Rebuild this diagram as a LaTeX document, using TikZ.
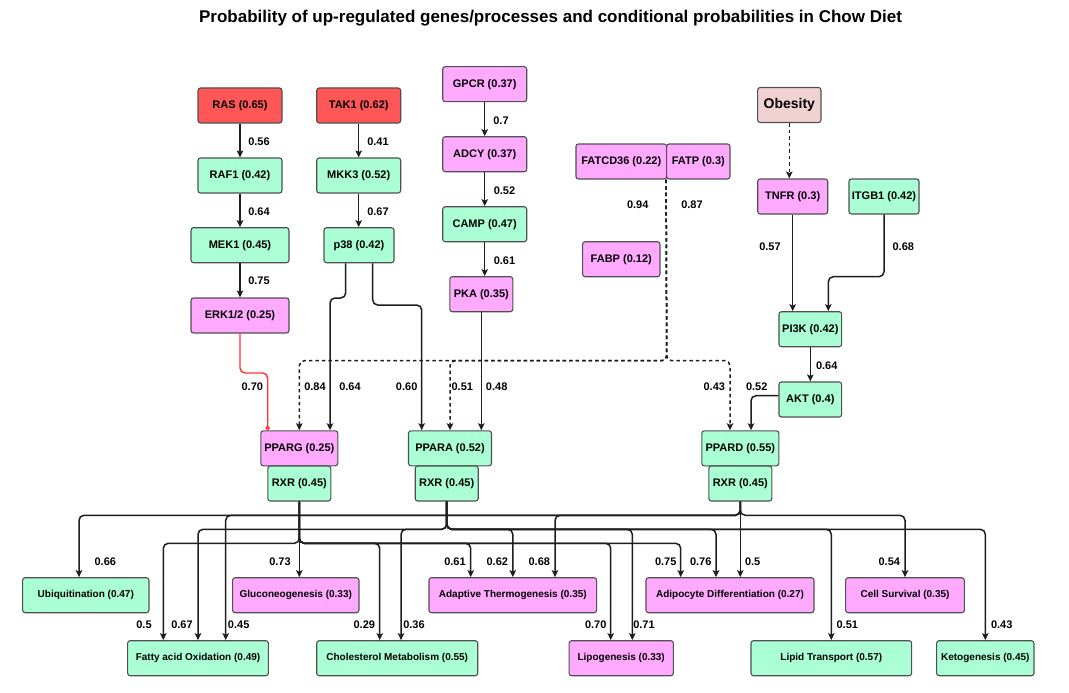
\documentclass[tikz,border=0pt]{standalone}
\usepackage{fontspec}
\setmainfont{Liberation Sans}
\usetikzlibrary{arrows.meta}
\definecolor{cred}{RGB}{255,87,87}
\definecolor{cgreen}{RGB}{170,255,213}
\definecolor{cpink}{RGB}{255,170,255}
\definecolor{cobes}{RGB}{240,210,210}
\definecolor{cborder}{RGB}{80,80,80}
\definecolor{cline}{RGB}{30,30,30}
\definecolor{credline}{RGB}{255,51,51}
\begin{document}
\begin{tikzpicture}[x=1pt,y=-1pt,
  box/.style={draw=cborder, line width=1.1pt, rounded corners=2.5pt, inner sep=0pt, minimum height=35pt, font=\bfseries\fontsize{11}{13}\selectfont, text=black},
  gbox/.style={box, fill=cgreen},
  pbox/.style={box, fill=cpink},
  rbox/.style={box, fill=cred},
  smalltxt/.style={font=\bfseries\fontsize{10}{12}\selectfont},
  elabel/.style={font=\bfseries\fontsize{11}{13}\selectfont, inner sep=0pt, text=black},
  edge/.style={draw=cline, line width=1.5pt, rounded corners=5pt, -{Stealth[length=7pt,width=6.5pt,inset=1.5pt]}},
  dedge/.style={edge, dash pattern=on 3.5pt off 3pt},
  redge/.style={draw=credline, line width=1.4pt, rounded corners=5pt, -{Circle[open,length=4.5pt,width=4.5pt]}}
]
\fill[white] (0,0) rectangle (1069,693);
\useasboundingbox (0,0) rectangle (1069,693);

\node[font=\bfseries\fontsize{17}{20}\selectfont] (title) at (550.5,18) {Probability of up-regulated genes/processes and conditional probabilities in Chow Diet};

% top nodes
\node[rbox, minimum width=84pt] (ras) at (240,105.5) {RAS (0.65)};
\node[rbox, minimum width=84pt] (tak1) at (358.7,105.5) {TAK1 (0.62)};
\node[gbox, minimum width=84pt] (raf1) at (240,175.5) {RAF1 (0.42)};
\node[gbox, minimum width=84pt] (mkk3) at (358.7,175.5) {MKK3 (0.52)};
\node[gbox, minimum width=98pt] (mek1) at (240,245.2) {MEK1 (0.45)};
\node[gbox, minimum width=70pt] (p38) at (359,245.2) {p38 (0.42)};
\node[pbox, minimum width=98pt] (erk) at (240,315.5) {ERK1/2 (0.25)};
\node[pbox, minimum width=84pt] (gpcr) at (484.7,84.2) {GPCR (0.37)};
\node[pbox, minimum width=84pt] (adcy) at (484.7,154.2) {ADCY (0.37)};
\node[gbox, minimum width=84pt] (camp) at (484.7,224.2) {CAMP (0.47)};
\node[pbox, minimum width=63pt] (pka) at (481.3,294.2) {PKA (0.35)};
\node[pbox, minimum width=90.7pt] (fatcd) at (621.3,161.5) {FATCD36 (0.22)};
\node[pbox, minimum width=63.3pt] (fatp) at (698.3,161.5) {FATP (0.3)};
\node[pbox, minimum width=77.3pt] (fabp) at (621.3,259.2) {FABP (0.12)};
\node[box, fill=cobes, minimum width=63.3pt, font=\bfseries\fontsize{14}{16}\selectfont] (obes) at (789.3,105) {Obesity};
\node[pbox, minimum width=70pt] (tnfr) at (792.7,196.5) {TNFR (0.3)};
\node[gbox, minimum width=70pt] (itgb1) at (884,196.5) {ITGB1 (0.42)};
\node[gbox, minimum width=62.7pt] (pi3k) at (810.3,329.2) {PI3K (0.42)};
\node[gbox, minimum width=62.7pt] (akt) at (810.3,399.5) {AKT (0.4)};

% receptors
\node[pbox, minimum width=77pt] (pparg) at (299.3,448.3) {PPARG (0.25)};
\node[gbox, minimum width=63pt] (rxrg) at (299.3,483.5) {RXR (0.45)};
\node[gbox, minimum width=83pt] (ppara) at (450,448.3) {PPARA (0.52)};
\node[gbox, minimum width=63pt] (rxra) at (446.7,483.5) {RXR (0.45)};
\node[gbox, minimum width=77pt] (ppard) at (740.3,448.3) {PPARD (0.55)};
\node[gbox, minimum width=63pt] (rxrd) at (740.3,483.5) {RXR (0.45)};

% bottom nodes
\node[gbox, smalltxt, minimum width=126.3pt] (ubiq) at (85.8,595.2) {Ubiquitination (0.47)};
\node[pbox, smalltxt, minimum width=126.3pt] (gluco) at (295.8,595.2) {Gluconeogenesis (0.33)};
\node[pbox, smalltxt, minimum width=167.7pt] (adapt) at (512.8,595.2) {Adaptive Thermogenesis (0.35)};
\node[pbox, smalltxt, minimum width=168pt] (adipo) at (730,595.2) {Adipocyte Differentiation (0.27)};
\node[pbox, smalltxt, minimum width=118.7pt] (cell) at (905,595.2) {Cell Survival (0.35)};
\node[gbox, smalltxt, minimum width=140.7pt] (fatty) at (198,658.2) {Fatty acid Oxidation (0.49)};
\node[gbox, smalltxt, minimum width=161pt] (chol) at (397.2,658.2) {Cholesterol Metabolism (0.55)};
\node[pbox, smalltxt, minimum width=104.3pt] (lipo) at (621.2,658.2) {Lipogenesis (0.33)};
\node[gbox, smalltxt, minimum width=160.7pt] (lipid) at (831.3,658.2) {Lipid Transport (0.57)};
\node[gbox, smalltxt, minimum width=97.3pt] (keto) at (985.3,658.2) {Ketogenesis (0.45)};

% top edges
\draw[edge] (ras) -- (raf1);
\draw[edge] (raf1) -- (mek1);
\draw[edge] (mek1) -- (erk);
\draw[edge] (tak1) -- (mkk3);
\draw[edge] (mkk3.south) -- (mkk3.south |- p38.north);
\draw[edge] (gpcr) -- (adcy);
\draw[edge] (adcy) -- (camp);
\draw[edge] (camp.south) -- (camp.south |- pka.north);
\draw[dedge] (obes.south) -- (obes.south |- tnfr.north);
\draw[edge] (tnfr.south) -- (tnfr.south |- pi3k.north);
\draw[edge] (itgb1.south) -- (884,276.7) -| ([xshift=18pt]pi3k.north);
\draw[edge] (pi3k) -- (akt);

% into receptors
\draw[redge] (erk.south) -- (240,373) -| ([xshift=-31.6pt]pparg.north);
\draw[edge] ([xshift=-13.3pt]p38.south) -- (345.7,298) -| ([xshift=30.7pt]pparg.north);
\draw[edge] ([xshift=13.7pt]p38.south) -- (372.7,305) -| ([xshift=-28.3pt]ppara.north);
\draw[edge] (pka.south) -- (pka.south |- ppara.north);
\draw[dedge] (fatp.south west) -- (666.7,360.7) -| (pparg.north);
\draw[dedge] (fatp.south west) -- (666.7,360.7) -| (ppara.north);
\draw[dedge] (fatp.south west) -- (666.7,360.7) -| ([xshift=-10.3pt]ppard.north);
\draw[edge] ([yshift=3.8pt]akt.west) -- (751,395.7) -- ([xshift=10.7pt]ppard.north);

% RXR-G level
\draw[edge] (rxrg.south) -- (299.3,543.3) -| ([xshift=-34.7pt]fatty.north);
\draw[edge] (rxrg.south) -- (rxrg.south |- gluco.north);
\draw[edge] (rxrg.south) -- (299.3,543.3) -| ([xshift=-17.5pt]chol.north);
\draw[edge] (rxrg.south) -- (299.3,543.3) -| ([xshift=-42.1pt]adapt.north);
\draw[edge] (rxrg.south) -- (299.3,543.3) -| ([xshift=-10.5pt]lipo.north);
\draw[edge] (rxrg.south) -- (299.3,543.3) -| ([xshift=-49.3pt]adipo.north);
% RXR-A level
\draw[edge] (rxra.south) -- (446.7,529.3) -| (fatty.north);
\draw[edge] (rxra.south) -- (446.7,529.3) -| ([xshift=3.8pt]chol.north);
\draw[edge] (rxra.south) -- (446.7,529.3) -| (adapt.north);
\draw[edge] (rxra.south) -- (446.7,529.3) -| ([xshift=11.1pt]lipo.north);
\draw[edge] (rxra.south) -- (446.7,529.3) -| ([xshift=-14pt]adipo.north);
\draw[edge] (rxra.south) -- (446.7,529.3) -| (lipid.north);
\draw[edge] (rxra.south) -- (446.7,529.3) -| (keto.north);
% RXR-D level
\draw[edge] (rxrd.south) -- (740.3,515.3) -| ([xshift=-6.8pt]ubiq.north);
\draw[edge] (rxrd.south) -- (740.3,515.3) -| ([xshift=27.7pt]fatty.north);
\draw[edge] (rxrd.south) -- (740.3,515.3) -| ([xshift=42.2pt]adapt.north);
\draw[edge] (rxrd.south) -- (740.3,515.3) -| (cell.north);
\draw[edge] (rxrd.south) -- (rxrd.south |- adipo.north);

% labels top
\node[elabel] (l1) at (259,141.7) {0.56};
\node[elabel] (l2) at (378,141.7) {0.41};
\node[elabel] (l3) at (259,212) {0.64};
\node[elabel] (l4) at (378,212) {0.67};
\node[elabel] (l5) at (259,281) {0.75};
\node[elabel] (l6) at (501,120.7) {0.7};
\node[elabel] (l7) at (504.5,190.7) {0.52};
\node[elabel] (l8) at (504.5,260.7) {0.61};
\node[elabel] (l9) at (637.7,205) {0.94};
\node[elabel] (l10) at (692,205) {0.87};
\node[elabel] (l11) at (770,246.7) {0.57};
\node[elabel] (l12) at (903.3,246.7) {0.68};
\node[elabel] (l13) at (826.7,365.7) {0.64};
% labels middle
\node[elabel] (m1) at (252.3,386.7) {0.70};
\node[elabel] (m2) at (315,386.7) {0.84};
\node[elabel] (m3) at (350,386.7) {0.64};
\node[elabel] (m4) at (406.7,386.7) {0.60};
\node[elabel] (m5) at (462.3,386.7) {0.51};
\node[elabel] (m6) at (496.7,386.7) {0.48};
\node[elabel] (m7) at (714.3,386.7) {0.43};
\node[elabel] (m8) at (756.7,386.7) {0.52};
% labels bottom row 1
\node[elabel] (b1) at (105.3,561.7) {0.66};
\node[elabel] (b2) at (280,561.7) {0.73};
\node[elabel] (b3) at (455,561.7) {0.61};
\node[elabel] (b4) at (497.3,561.7) {0.62};
\node[elabel] (b5) at (539.3,561.7) {0.68};
\node[elabel] (b6) at (665.7,561.7) {0.75};
\node[elabel] (b7) at (700.7,561.7) {0.76};
\node[elabel] (b8) at (752.7,561.7) {0.5};
\node[elabel] (b9) at (889.3,561.7) {0.54};
% labels bottom row 2
\node[elabel] (c1) at (144,625) {0.5};
\node[elabel] (c2) at (182,625) {0.67};
\node[elabel] (c3) at (238.7,625) {0.45};
\node[elabel] (c4) at (364.3,625) {0.29};
\node[elabel] (c5) at (414,625) {0.36};
\node[elabel] (c6) at (595.7,625) {0.70};
\node[elabel] (c7) at (644,625) {0.71};
\node[elabel] (c8) at (847.3,625) {0.51};
\node[elabel] (c9) at (1001.7,625) {0.43};
\end{tikzpicture}
\end{document}
